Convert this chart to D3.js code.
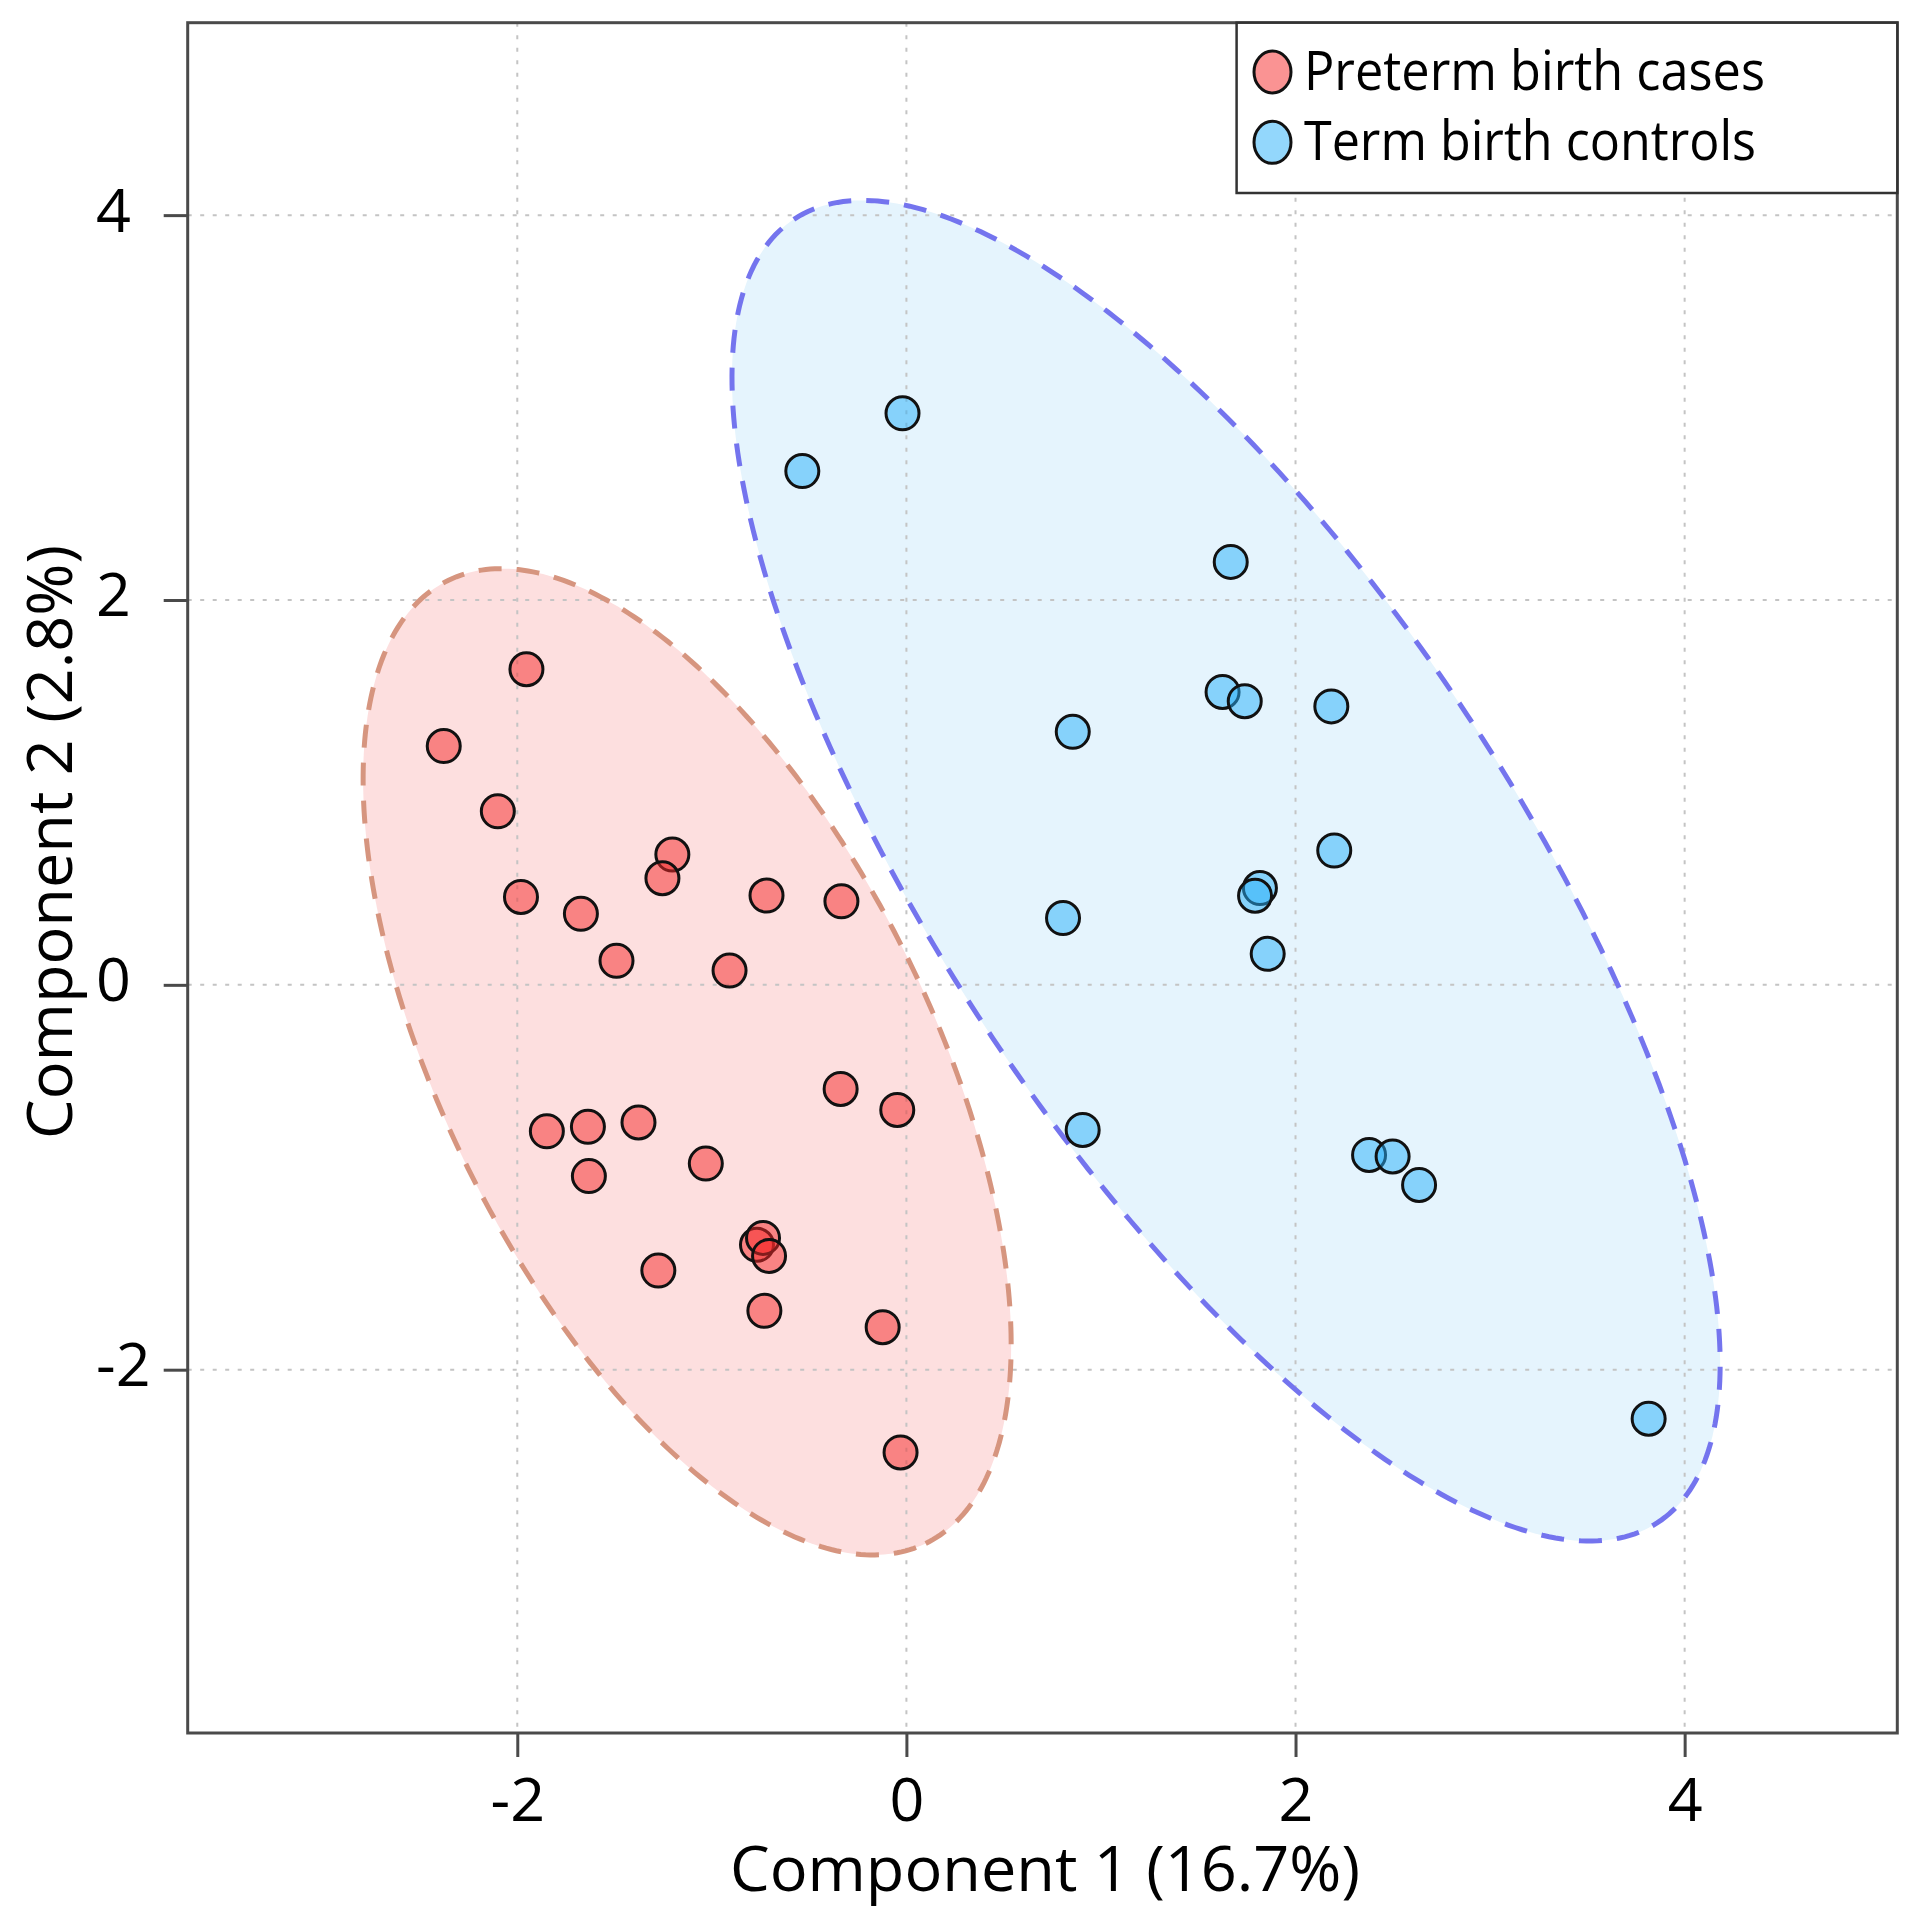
<!DOCTYPE html>
<html>
<head>
<meta charset="utf-8">
<script src="https://cdn.jsdelivr.net/npm/d3@7"></script>
<style>
  html, body { margin: 0; padding: 0; background: #ffffff; }
  svg { display: block; }
  text { font-family: "Open Sans", "Noto Sans", sans-serif; fill: #000; }
</style>
</head>
<body>
<svg id="chart" width="1918" height="1920"></svg>
<script>
// ---------- data ----------
const xTicks = [-2, 0, 2, 4];
const yTicks = [-2, 0, 2, 4];
const xLabel = "Component 1 (16.7%)";
const yLabel = "Component 2 (2.8%)";
const seriesNames = ["Preterm birth cases", "Term birth controls"];

const pretermX = [-1.953, -2.378, -2.100, -1.203, -1.254, -1.981, -1.673, -0.719, -0.334, -1.490,
                  -0.909, -0.338, -0.047, -1.848, -1.637, -1.377, -1.632, -1.031, -1.275,
                  -0.768, -0.737, -0.706, -0.730, -0.122, -0.030];
const pretermY = [1.640, 1.241, 0.902, 0.677, 0.554, 0.457, 0.369, 0.464, 0.434, 0.125,
                  0.074, -0.541, -0.650, -0.761, -0.738, -0.715, -0.994, -0.929, -1.485,
                  -1.351, -1.315, -1.409, -1.694, -1.779, -2.430];

const termX = [-0.020, -0.535, 1.667, 1.625, 1.739, 2.184, 0.855, 2.199, 1.817, 1.792,
               0.805, 1.857, 0.906, 2.378, 2.499, 2.635, 3.815];
const termY = [2.970, 2.670, 2.198, 1.522, 1.474, 1.447, 1.315, 0.698, 0.503, 0.463,
               0.347, 0.161, -0.754, -0.884, -0.892, -1.040, -2.255];

// confidence ellipses: centre x, centre y, semi-major, semi-minor, rotation (degrees), data units
const pretermEllipse = [-1.127, -0.400, 2.787, 1.255, -63.9];
const termEllipse    = [1.643, 0.593, 4.049, 1.480, -56.8];

// ---------- styles ----------
const colors = {
  pretermFill: "rgba(245,40,40,0.5)",
  termFill: "rgba(40,175,250,0.5)",
  pretermArea: "#fddfdf",
  termArea: "#e5f4fd",
  pretermEdge: "#d6957f",
  termEdge: "#7474ee"
};

const svg = d3.select("#chart");
const pL = 187.7, pR = 1897.3, pT = 22.7, pB = 1733;

const x = d3.scaleLinear().domain([-3.694, 5.093]).range([pL, pR]);
const y = d3.scaleLinear().domain([-3.888, 5.0]).range([pB, pT]);

function ellipsePoints(e) {
  const [cx, cy, a, b, deg] = e;
  const phi = deg * Math.PI / 180;
  return d3.range(0, 360, 1).map(t => {
    const r = t * Math.PI / 180;
    const dx = a * Math.cos(r), dy = b * Math.sin(r);
    return [cx + dx * Math.cos(phi) - dy * Math.sin(phi),
            cy + dx * Math.sin(phi) + dy * Math.cos(phi)];
  });
}
const line = d3.line().x(d => x(d[0])).y(d => y(d[1])).curve(d3.curveLinearClosed);

// ellipse fills
svg.append("path").attr("d", line(ellipsePoints(pretermEllipse))).attr("fill", colors.pretermArea);
svg.append("path").attr("d", line(ellipsePoints(termEllipse))).attr("fill", colors.termArea);

// grid
const grid = svg.append("g").attr("stroke", "#c4c4c4").attr("stroke-width", 2).attr("stroke-dasharray", "4,8.5");
grid.selectAll(".gx").data(xTicks).join("line").attr("class", "gx")
  .attr("x1", d => x(d)).attr("x2", d => x(d)).attr("y1", pT).attr("y2", pB);
grid.selectAll(".gy").data(yTicks).join("line").attr("class", "gy")
  .attr("y1", d => y(d)).attr("y2", d => y(d)).attr("x1", pL).attr("x2", pR);

// ellipse outlines
svg.append("path").attr("d", line(ellipsePoints(pretermEllipse)))
  .attr("fill", "none").attr("stroke", colors.pretermEdge).attr("stroke-width", 5).attr("stroke-dasharray", "23,15");
svg.append("path").attr("d", line(ellipsePoints(termEllipse)))
  .attr("fill", "none").attr("stroke", colors.termEdge).attr("stroke-width", 5).attr("stroke-dasharray", "23,15");

// points
const preterm = pretermX.map((v, i) => ({x: v, y: pretermY[i]}));
const term = termX.map((v, i) => ({x: v, y: termY[i]}));
svg.append("g").selectAll("circle").data(preterm).join("circle")
  .attr("cx", d => x(d.x)).attr("cy", d => y(d.y)).attr("r", 16.5)
  .attr("fill", colors.pretermFill).attr("stroke", "#111").attr("stroke-width", 3);
svg.append("g").selectAll("circle").data(term).join("circle")
  .attr("cx", d => x(d.x)).attr("cy", d => y(d.y)).attr("r", 16.5)
  .attr("fill", colors.termFill).attr("stroke", "#111").attr("stroke-width", 3);

// frame
svg.append("rect").attr("x", pL).attr("y", pT).attr("width", pR - pL).attr("height", pB - pT)
  .attr("fill", "none").attr("stroke", "#4a4a4a").attr("stroke-width", 3);

// axes
const fmt = d => (d < 0 ? "-" + Math.abs(d) : String(d));
const xAxis = svg.append("g").attr("transform", `translate(0,${pB})`)
  .call(d3.axisBottom(x).tickValues(xTicks).tickSize(24).tickSizeOuter(0).tickFormat(fmt));
xAxis.select(".domain").remove();
xAxis.selectAll(".tick line").attr("stroke", "#4a4a4a").attr("stroke-width", 3);
xAxis.selectAll(".tick text").attr("y", 88).attr("dy", 0).attr("font-size", 61)
  .attr("font-family", "'Open Sans', sans-serif").attr("fill", "#000");

const yAxis = svg.append("g").attr("transform", `translate(${pL},0)`)
  .call(d3.axisLeft(y).tickValues(yTicks).tickSize(24).tickSizeOuter(0).tickFormat(fmt));
yAxis.select(".domain").remove();
yAxis.selectAll(".tick line").attr("stroke", "#4a4a4a").attr("stroke-width", 3);
yAxis.selectAll(".tick text").attr("x", 96 - pL).attr("dy", 0).attr("y", 16).attr("font-size", 61)
  .attr("text-anchor", "start").attr("font-family", "'Open Sans', sans-serif").attr("fill", "#000");

// axis titles
svg.append("text").attr("x", 1045).attr("y", 1891).attr("text-anchor", "middle")
  .attr("font-size", 63).text(xLabel);
svg.append("text").attr("transform", "translate(72,842) rotate(-90)").attr("text-anchor", "middle")
  .attr("font-size", 63).text(yLabel);

// legend
const lg = svg.append("g");
lg.append("rect").attr("x", 1236.6).attr("y", pT).attr("width", pR - 1236.6).attr("height", 193 - pT)
  .attr("fill", "#fff").attr("stroke", "#333").attr("stroke-width", 2.5);
const legendFills = [colors.pretermFill, colors.termFill];
const legendY = [72, 142.3];
seriesNames.forEach((name, i) => {
  lg.append("ellipse").attr("cx", 1272.5).attr("cy", legendY[i]).attr("rx", 18.5).attr("ry", 21)
    .attr("fill", legendFills[i]).attr("stroke", "#111").attr("stroke-width", 3);
  lg.append("text").attr("x", 1304).attr("y", legendY[i] + 17.5).attr("font-size", 54)
    .attr("textLength", i === 0 ? 461 : 452).attr("lengthAdjust", "spacingAndGlyphs").text(name);
});
</script>
</body>
</html>
